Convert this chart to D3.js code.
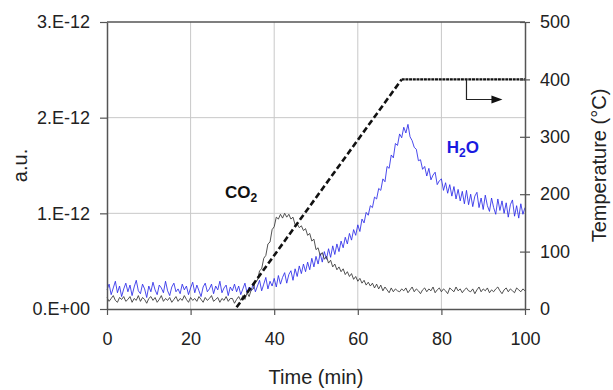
<!DOCTYPE html>
<html><head><meta charset="utf-8">
<script src="https://cdn.jsdelivr.net/npm/d3@7"></script>
<style>
html,body{margin:0;padding:0;background:#fff;}
svg text{font-family:"Liberation Sans",Arial,sans-serif;fill:#222;}
</style></head>
<body><svg id="c" width="613" height="390"></svg>
<script>
// ---- data (signal in units of 1E-12 a.u.; time step 0.5 min) ----
const timeStart = 0, timeStep = 0.5;
const co2Values = [
0.12,0.08,0.11,0.14,0.09,0.07,0.12,0.10,0.13,0.08,
0.10,0.13,0.07,0.11,0.09,0.14,0.08,0.12,0.10,0.06,
0.11,0.13,0.09,0.12,0.07,0.10,0.14,0.08,0.11,0.09,
0.12,0.07,0.10,0.13,0.08,0.11,0.09,0.14,0.10,0.07,
0.12,0.09,0.11,0.08,0.13,0.10,0.07,0.12,0.09,0.11,
0.14,0.08,0.10,0.12,0.07,0.11,0.09,0.13,0.08,0.11,
0.11,0.06,0.10,0.13,0.09,0.14,0.10,0.17,0.13,0.20,
0.21,0.29,0.30,0.40,0.42,0.53,0.56,0.68,0.70,0.83,
0.86,0.96,0.94,0.99,0.95,1.00,0.96,0.99,0.94,0.96,
0.88,0.89,0.85,0.87,0.82,0.84,0.77,0.79,0.71,0.73,
0.62,0.64,0.56,0.59,0.52,0.55,0.48,0.51,0.44,0.47,
0.41,0.44,0.39,0.42,0.36,0.39,0.34,0.37,0.31,0.34,
0.29,0.32,0.27,0.30,0.25,0.28,0.24,0.27,0.22,0.26,
0.21,0.25,0.19,0.23,0.20,0.17,0.22,0.18,0.21,0.19,
0.18,0.21,0.19,0.22,0.17,0.20,0.23,0.18,0.21,0.19,
0.16,0.20,0.22,0.18,0.21,0.19,0.23,0.17,0.20,0.22,
0.18,0.21,0.19,0.16,0.22,0.20,0.18,0.23,0.19,0.21,
0.17,0.20,0.22,0.19,0.18,0.21,0.16,0.20,0.23,0.18,
0.21,0.19,0.22,0.17,0.20,0.18,0.21,0.23,0.19,0.16,
0.20,0.22,0.18,0.21,0.19,0.17,0.22,0.20,0.18,0.21,0.19
];
const h2oValues = [
0.20,0.26,0.15,0.22,0.29,0.17,0.24,0.13,0.21,0.27,
0.18,0.25,0.14,0.23,0.30,0.19,0.16,0.26,0.21,0.12,
0.24,0.18,0.28,0.20,0.15,0.25,0.22,0.17,0.29,0.19,
0.14,0.23,0.27,0.18,0.21,0.16,0.26,0.20,0.24,0.15,
0.22,0.28,0.17,0.25,0.19,0.13,0.23,0.27,0.18,0.21,
0.26,0.16,0.24,0.20,0.29,0.17,0.22,0.25,0.14,0.23,
0.19,0.26,0.18,0.24,0.15,0.21,0.27,0.17,0.23,0.19,
0.27,0.18,0.24,0.30,0.19,0.26,0.33,0.21,0.29,0.24,
0.32,0.23,0.35,0.26,0.33,0.38,0.27,0.36,0.40,0.30,
0.42,0.34,0.45,0.37,0.47,0.39,0.49,0.41,0.53,0.44,
0.55,0.47,0.58,0.49,0.60,0.52,0.63,0.54,0.66,0.57,
0.68,0.60,0.71,0.64,0.75,0.68,0.79,0.72,0.83,0.77,
0.88,0.81,0.94,0.90,1.01,0.98,1.08,1.06,1.17,1.15,
1.26,1.24,1.36,1.33,1.49,1.47,1.61,1.58,1.73,1.71,
1.83,1.79,1.90,1.84,1.93,1.80,1.76,1.69,1.67,1.55,
1.56,1.46,1.49,1.39,1.47,1.35,1.40,1.43,1.30,1.34,
1.36,1.24,1.32,1.21,1.30,1.18,1.28,1.15,1.25,1.13,
1.23,1.10,1.24,1.09,1.20,1.07,1.18,1.22,1.06,1.16,
1.04,1.19,1.08,1.02,1.16,1.06,0.99,1.15,1.03,1.13,
1.00,1.11,0.96,1.09,1.14,0.97,1.08,0.95,1.10,0.99,1.06
];
const signalUnit = 1e-12;
const tempTimes = [31, 70.5, 100];
const tempValues = [3, 400, 400];
const xTicks = [0, 20, 40, 60, 80, 100];
const yLeftTicks = [0, 1e-12, 2e-12, 3e-12];
const yLeftLabels = ["0.E+00", "1.E-12", "2.E-12", "3.E-12"];
const yRightTicks = [0, 100, 200, 300, 400, 500];

// ---- layout ----
const svg = d3.select("#c");
const L = 107, R = 525, T = 22, B = 309;
const x = d3.scaleLinear().domain([0, 100]).range([L, R]);
const y = d3.scaleLinear().domain([0, 3e-12]).range([B, T]);
const yT = d3.scaleLinear().domain([0, 500]).range([B, T]);
const axisCol = "#555";

// grid
svg.append("g").selectAll("line").data(xTicks.slice(1, -1)).join("line")
  .attr("x1", d => x(d)).attr("x2", d => x(d)).attr("y1", T).attr("y2", B)
  .attr("stroke", "#c8c8c8").attr("stroke-width", 1);
svg.append("g").selectAll("line").data(yLeftTicks.slice(1, -1)).join("line")
  .attr("x1", L).attr("x2", R).attr("y1", d => y(d)).attr("y2", d => y(d))
  .attr("stroke", "#c8c8c8").attr("stroke-width", 1);

// series
const co2 = co2Values.map((v, i) => ({t: timeStart + i * timeStep, v: v * signalUnit}));
const h2o = h2oValues.map((v, i) => ({t: timeStart + i * timeStep, v: v * signalUnit}));
const line = d3.line().x(d => x(d.t)).y(d => y(d.v));
svg.append("path").datum(h2o).attr("d", line).attr("fill", "none")
  .attr("stroke", "#2a2ae8").attr("stroke-width", 0.85);
svg.append("path").datum(co2).attr("d", line).attr("fill", "none")
  .attr("stroke", "#333").attr("stroke-width", 0.85);

// temperature
const temp = tempTimes.map((t, i) => ({t, v: tempValues[i]}));
const tLine = d3.line().x(d => x(d.t)).y(d => yT(d.v));
svg.append("path").datum(temp.slice(0, 2)).attr("d", tLine).attr("fill", "none")
  .attr("stroke", "#111").attr("stroke-width", 2.6).attr("stroke-dasharray", "6,3");
svg.append("path").datum(temp.slice(1)).attr("d", tLine).attr("fill", "none")
  .attr("stroke", "#111").attr("stroke-width", 2.4).attr("stroke-dasharray", "3,0.7");

// axes
const fs = "18px";
const gL = svg.append("g").attr("transform", `translate(${L},0)`)
  .call(d3.axisLeft(y).tickValues(yLeftTicks).tickFormat((d, i) => yLeftLabels[i]).tickSize(7).tickPadding(10).tickSizeOuter(0));
const gR = svg.append("g").attr("transform", `translate(${R},0)`)
  .call(d3.axisRight(yT).tickValues(yRightTicks).tickSize(5).tickPadding(10).tickSizeOuter(0));
gR.selectAll(".tick line").attr("x1", -5);
const gB = svg.append("g").attr("transform", `translate(0,${B})`)
  .call(d3.axisBottom(x).tickValues(xTicks).tickSize(6).tickPadding(17).tickSizeOuter(0));
[gL, gR, gB].forEach(g => {
  g.select(".domain").attr("stroke", axisCol).attr("stroke-width", 1.5);
  g.selectAll(".tick line").attr("stroke", axisCol).attr("stroke-width", 1.2);
  g.selectAll(".tick text").attr("font-size", fs).attr("fill", "#222")
    .attr("font-family", "Liberation Sans, Arial, sans-serif");
});
// top frame
svg.append("line").attr("x1", L).attr("x2", R).attr("y1", T).attr("y2", T)
  .attr("stroke", axisCol).attr("stroke-width", 1.5);

// titles
svg.append("text").attr("x", (L + R) / 2).attr("y", 384).attr("text-anchor", "middle")
  .attr("font-size", "20px").text("Time (min)");
svg.append("text").attr("transform", `translate(27,${(T + B) / 2}) rotate(-90)`)
  .attr("text-anchor", "middle").attr("font-size", "20px").text("a.u.");
svg.append("text").attr("transform", `translate(606,${(T + B) / 2}) rotate(-90)`)
  .attr("text-anchor", "middle").attr("font-size", "20px").text("Temperature (°C)");

// series labels
const co2Lab = svg.append("text").attr("x", x(28.2)).attr("y", y(1.16e-12))
  .attr("font-size", "17px").attr("font-weight", "bold").style("fill", "#111");
co2Lab.append("tspan").text("CO");
co2Lab.append("tspan").attr("font-size", "12px").attr("dy", 4).text("2");
const h2oLab = svg.append("text").attr("x", x(81.3)).attr("y", y(1.63e-12))
  .attr("font-size", "17px").attr("font-weight", "bold").style("fill", "#1a1ae0");
h2oLab.append("tspan").text("H");
h2oLab.append("tspan").attr("font-size", "12px").attr("dy", 4).text("2");
h2oLab.append("tspan").attr("dy", -4).text("O");

// arrow pointing to the temperature axis
const arrowPts = [[86, 400], [86, 365], [93, 365]];
svg.append("path")
  .attr("d", d3.line()(arrowPts.map(p => [x(p[0]), yT(p[1])])))
  .attr("fill", "none").attr("stroke", "#222").attr("stroke-width", 1.2);
const ax = x(94.6), ay = yT(365);
svg.append("path").attr("d", `M${ax},${ay} L${ax - 11},${ay - 4} L${ax - 11},${ay + 4} Z`).attr("fill", "#111");
</script></body></html>
